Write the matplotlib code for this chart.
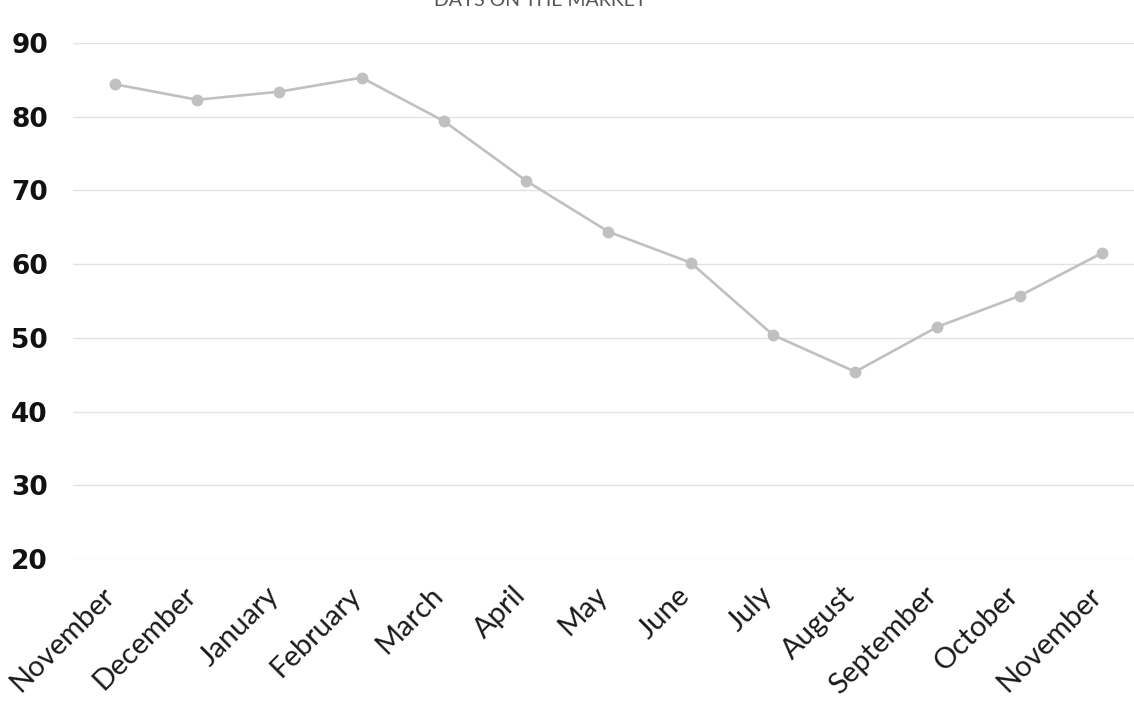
import matplotlib
matplotlib.use("Agg")
import matplotlib.pyplot as plt
from matplotlib.transforms import ScaledTranslation, blended_transform_factory

months = ["November", "December", "January", "February", "March", "April", "May",
          "June", "July", "August", "September", "October", "November"]
days = [84.4, 82.3, 83.4, 85.3, 79.4, 71.3, 64.4, 60.2, 50.4, 45.4, 51.5, 55.7, 61.5]
yticks = [20, 30, 40, 50, 60, 70, 80, 90]
title = "DAYS ON THE MARKET"

fig = plt.figure(figsize=(11.34, 7.11), dpi=100)
ax = fig.add_axes([73/1134, 1-559/711, 1-73/1134, (559-43)/711])
x = list(range(len(months)))
ax.plot(x, days, color="#c0c0c0", lw=1.9, marker="o", ms=7.5, zorder=3)
ax.set_xlim(-0.51, 12.39)
ax.set_ylim(20, 90)
ax.set_yticks(yticks)
ax.set_yticklabels([str(v) for v in yticks], fontsize=19, fontweight="bold",
                   family="DejaVu Sans", color="#111111")
ax.set_xticks(x)
ax.set_xticklabels([])
trans = blended_transform_factory(ax.transData, ax.transAxes) + \
    ScaledTranslation(-0.14, -0.23, fig.dpi_scale_trans)
for xi, m in zip(x, months):
    ax.text(xi, 0, m, transform=trans, rotation=45, ha="right", va="top",
            rotation_mode="anchor", fontsize=21, family="Lato", color="#1a1a1a",
            clip_on=False)
ax.grid(axis="y", color="#e2e2e2", lw=1.0)
ax.set_axisbelow(True)
for s in ax.spines.values():
    s.set_visible(False)
ax.tick_params(axis="both", length=0)
ax.tick_params(axis="y", pad=18)
fig.text(0.476, 1.0, title, ha="center", va="center", fontsize=14,
         color="#555555", family="Lato")
fig.savefig("out.png", dpi=100)
